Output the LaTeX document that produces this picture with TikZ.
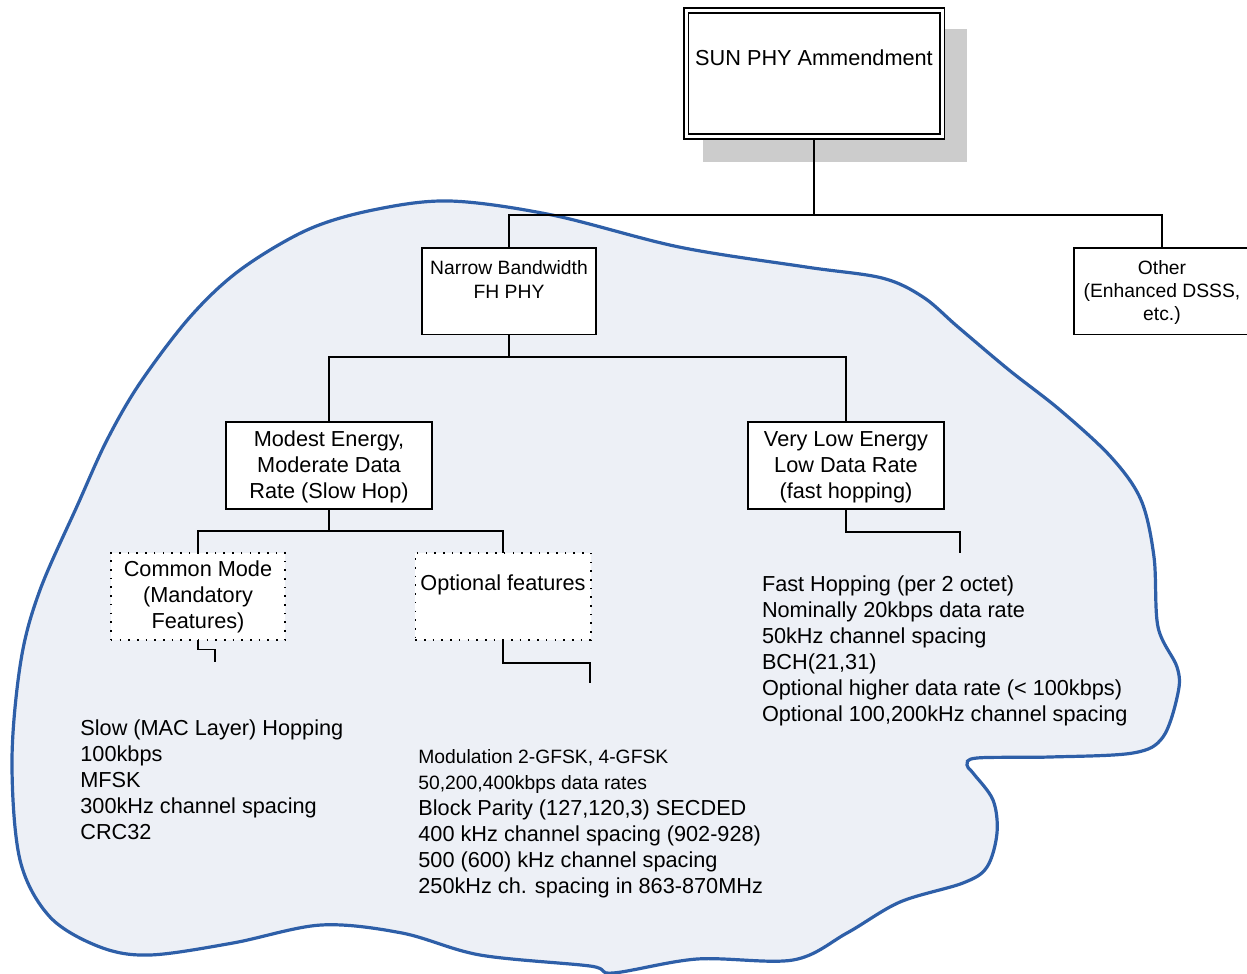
\documentclass[tikz,border=0pt]{standalone}
\usepackage{fontspec}
\setmainfont{Liberation Sans}
\definecolor{blobline}{RGB}{46,95,168}
\definecolor{blobfill}{RGB}{237,240,246}
\newcommand\mainsz{\fontsize{10.85}{13}\selectfont}
\newcommand\smallsz{\fontsize{9.65}{11.6}\selectfont}

\begin{document}
\begin{tikzpicture}[
    x=0.5pt, y=-0.5pt,
    font=\mainsz
]
	\tikzset{
	    pbox/.style = {draw=black, fill=white, line width=0.9pt, inner sep=0pt, outer sep=0pt, align=center, anchor=north},
	    dbox/.style = {pbox, line width=0.8pt, dash pattern=on 0.8pt off 3.55pt},
	    conn/.style = {line width=0.9pt},
	    plist/.style = {align=left, anchor=base west, inner sep=0pt},
	    blob/.style = {draw=blobline, fill=blobfill, line width=1.6pt}
	}
	\useasboundingbox (0,0) rectangle (1247,974);
	% region of the narrow band PHY
	\draw[blob] plot[smooth cycle, tension=0.55] coordinates {
	    (12,760) (21,660) (40,590) (78,504) (107,440) (140,383) (190,317)
	    (240,270) (307,230) (373,210)
	    (450,201) (552,215) (679,247) (806,267) (882,278) (923,297) (958,327)
	    (1009,370) (1060,410) (1111,457) (1141,500) (1154,557) (1158,627)
	    (1177,667) (1178,693) (1163,737) (1133,753) (1050,757) (977,758)
	    (967,765) (973,773) (993,800) (997,833) (987,867) (963,883) (900,902)
	    (847,933) (793,960) (697,959) (613,973) (590,966) (480,955) (402,933)
	    (321,925) (233,943) (150,955) (100,947) (50,917) (20,860)};
	% shadow of the top box
	\fill[black!20] (703.3,29.3) rectangle (966.7,162);
	\node[pbox, double=white, double distance=1.5pt, outer sep=1.65pt, minimum width=128pt,
	      text height=27.5pt, text depth=35.4pt] at (814,7.3) (top) {SUN PHY Ammendment};
	\node[pbox, font=\smallsz, minimum width=87pt, text height=25pt, text depth=18.25pt]
	      at (509,248) (narrow) {Narrow Bandwidth\\FH PHY};
	\node[pbox, font=\smallsz, minimum width=88pt, text height=36.3pt, text depth=6.95pt]
	      at (1162,248) (other) {Other\\(Enhanced DSSS,\\etc.)};
	\node[pbox, minimum width=103pt, text height=38.25pt, text depth=5.25pt]
	      at (329,422) (modest) {Modest Energy,\\Moderate Data\\Rate (Slow Hop)};
	\node[pbox, minimum width=98pt, text height=38.25pt, text depth=5.25pt]
	      at (846,422) (vlow) {Very Low Energy\\Low Data Rate\\(fast hopping)};
	\node[dbox, minimum width=87.2pt, text height=37.65pt, text depth=6pt]
	      at (198,552.7) (common) {Common Mode\\(Mandatory\\Features)};
	\node[dbox, minimum width=87.7pt, text height=18.65pt, text depth=25pt]
	      at (503,552.7) (optional) {Optional features};
	% feature lists
	\node[plist] at (80,839.3) (slowlist) {Slow (MAC Layer) Hopping\\100kbps\\MFSK\\300kHz channel spacing\\CRC32};
	\node[plist] at (418,893.3) (optlist) {{\smallsz Modulation 2-GFSK, 4-GFSK}\\{\smallsz 50,200,400kbps data rates}\\Block Parity (127,120,3) SECDED\\400 kHz channel spacing (902-928)\\500 (600) kHz channel spacing\\250kHz ch. spacing in 863-870MHz};
	\node[plist] at (761.6,721.7) (fastlist) {Fast Hopping (per 2 octet)\\Nominally 20kbps data rate\\50kHz channel spacing\\BCH(21,31)\\Optional higher data rate (< 100kbps)\\Optional 100,200kHz channel spacing};
	% connectors
	\coordinate (j1) at (814,215);
	\coordinate (j2) at (509,357);
	\coordinate (j3) at (329,531);
	\coordinate (e1) at (215,662);
	\coordinate (e2) at (590,683);
	\coordinate (e3) at (960,553);
	\draw[conn] (top.south) -- (j1) -| (narrow.north);
	\draw[conn] (j1) -| (other.north);
	\draw[conn] (narrow.south) -- (j2) -| (modest.north);
	\draw[conn] (j2) -| (vlow.north);
	\draw[conn] (modest.south) -- (j3) -| (common.north);
	\draw[conn] (j3) -| (optional.north);
	\draw[conn] (common.south) -- ++(0,9.5) -| (e1);
	\draw[conn] (optional.south) -- ++(0,22.7) -| (e2);
	\draw[conn] (vlow.south) -- ++(0,23) -| (e3);
\end{tikzpicture}
\end{document}
